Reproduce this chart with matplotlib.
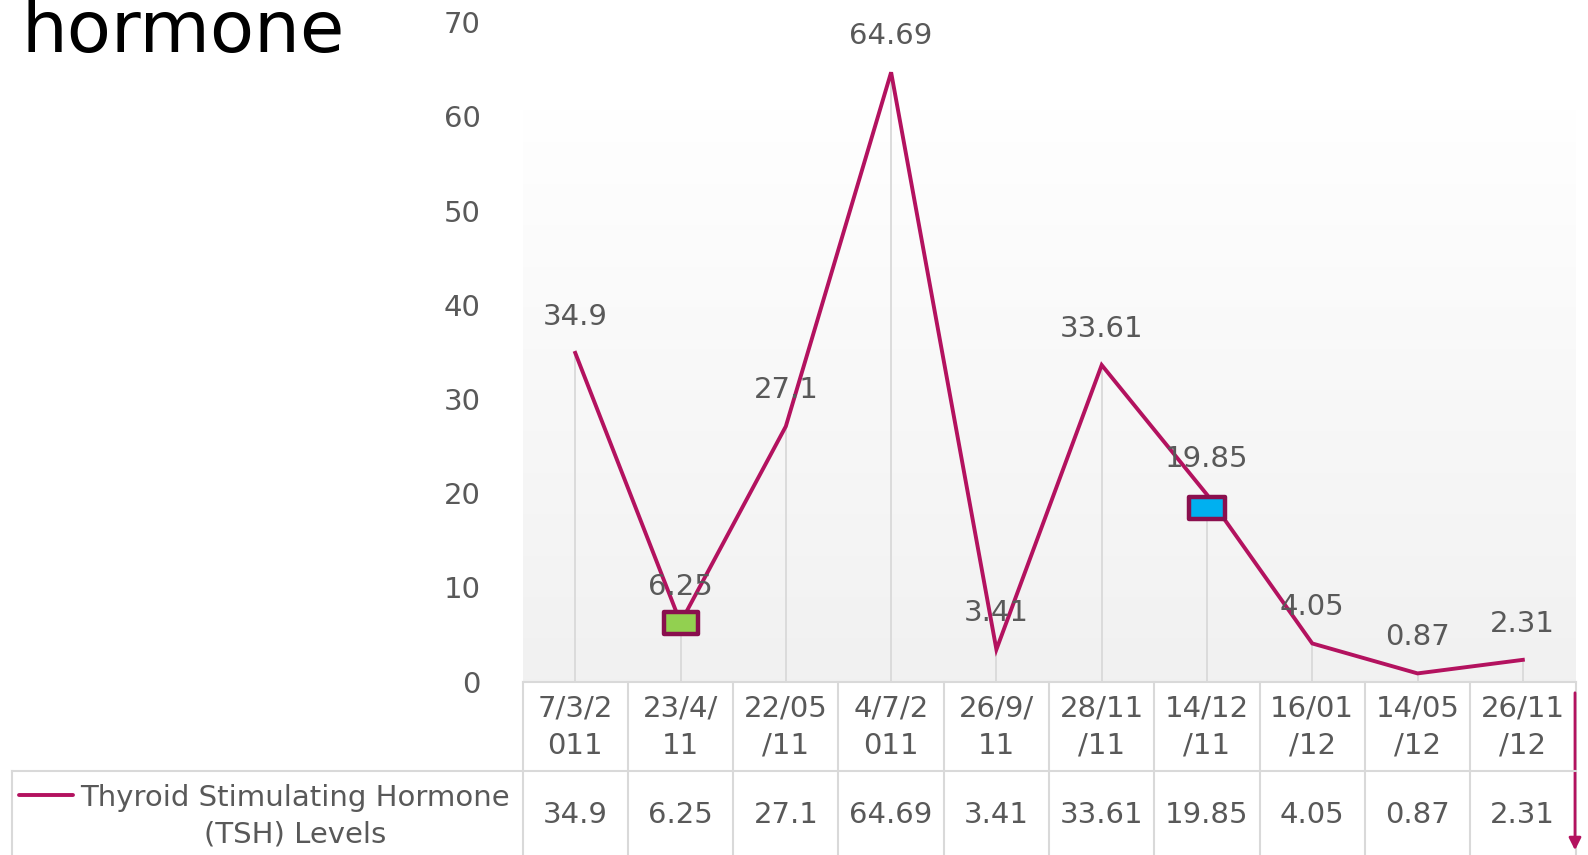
import numpy as np
import matplotlib
matplotlib.use("Agg")
from matplotlib import pyplot as plt
from matplotlib import transforms
from matplotlib.path import Path
from matplotlib.lines import Line2D

plt.rcParams['font.family'] = ['DejaVu Sans']

# data
dates = ['7/3/2\n011', '23/4/\n11', '22/05\n/11', '4/7/2\n011', '26/9/\n11',
         '28/11\n/11', '14/12\n/11', '16/01\n/12', '14/05\n/12', '26/11\n/12']
tsh = [34.9, 6.25, 27.1, 64.69, 3.41, 33.61, 19.85, 4.05, 0.87, 2.31]
series_name = 'Thyroid Stimulating Hormone\n(TSH) Levels'
yticks = [0, 10, 20, 30, 40, 50, 60, 70]

line_c = '#B3125F'
text_c = '#595959'
grid_c = '#D9D9D9'
fs = 21

W, H = 1588, 855
fig = plt.figure(figsize=(W / 100, H / 100), dpi=100)

# axes placed in pixel units
x0, x1 = 522.6, 1575.5
y_zero, y_top = 681.6, 22.3
ax = fig.add_axes([x0 / W, (H - y_zero) / H, (x1 - x0) / W, (y_zero - y_top) / H])
ax.set_xlim(-0.5, len(tsh) - 0.5)
for s in ax.spines.values():
    s.set_visible(False)
ax.set_xticks([])
ax.set_yticks(yticks)
ax.tick_params(axis='y', length=0, pad=30, labelsize=fs, labelcolor=text_c)
ax.patch.set_alpha(0)

# plot area gradient
grad_top = (y_zero - 110) / (y_zero - y_top)
g = np.linspace(0.945, 0.999, 200).reshape(-1, 1)[::-1]
ax.imshow(np.dstack([g, g, g]), extent=(-0.5, len(tsh) - 0.5, 0, 70 * grad_top),
          aspect='auto', origin='upper', zorder=0)
ax.set_ylim(0, 70)

x = np.arange(len(tsh))
# drop lines
ax.vlines(x, 0, tsh, color=grid_c, lw=1.3, zorder=1)
ax.plot(x, tsh, color=line_c, lw=2.8, zorder=3, solid_joinstyle='miter')

# highlighted points
rect = Path([(-1, -0.62), (1, -0.62), (1, 0.62), (-1, 0.62), (-1, -0.62)],
            [Path.MOVETO, Path.LINETO, Path.LINETO, Path.LINETO, Path.CLOSEPOLY])
ax.plot(x[1], tsh[1], marker=rect, ms=25, mfc='#92D050', mec='#8A0F4E', mew=3.2,
        zorder=4, ls='none')
shift = transforms.ScaledTranslation(0, -13 / 100, fig.dpi_scale_trans)
ax.plot(x[6], tsh[6], marker=rect, ms=26, mfc='#00B0F0', mec='#8A0F4E', mew=3.2,
        zorder=4, ls='none', transform=ax.transData + shift)

# data labels
for xi, v in zip(x, tsh):
    ax.annotate(f'{v:g}', (xi, v), xytext=(0, 26), textcoords='offset points',
                ha='center', va='center', fontsize=fs, color=text_c, zorder=5)

# data table
fx = lambda px: px / W
fy = lambda py: (H - py) / H
bt = transforms.blended_transform_factory(ax.transData, fig.transFigure)
row1_top, row2_top, bottom = 682, 770.5, 860
edges = np.arange(len(tsh) + 1) - 0.5
fig.add_artist(Line2D([fx(x0), fx(x1)], [fy(row1_top)] * 2, color=grid_c, lw=1.5))
fig.add_artist(Line2D([fx(12), fx(x1)], [fy(row2_top)] * 2, color=grid_c, lw=1.5))
fig.add_artist(Line2D([fx(12), fx(12)], [fy(row2_top), fy(bottom)], color=grid_c, lw=1.5))
for e in edges:
    ax.add_line(Line2D([e, e], [fy(row1_top), fy(bottom)], transform=bt,
                       color=grid_c, lw=1.5, clip_on=False))
for xi, d, v in zip(x, dates, tsh):
    ax.text(xi, fy(727), d, transform=bt, ha='center', va='center', fontsize=fs,
            color=text_c, linespacing=1.42, clip_on=False)
    ax.text(xi, fy(815), f'{v:g}', transform=bt, ha='center', va='center',
            fontsize=fs, color=text_c, clip_on=False)

# legend key in table
fig.add_artist(Line2D([fx(19), fx(73)], [fy(795)] * 2, color=line_c, lw=2.8,
                      solid_capstyle='round'))
fig.text(fx(295), fy(816), series_name, ha='center', va='center', fontsize=fs,
         color=text_c, linespacing=1.4)

# title (cropped at top)
fig.text(fx(22), fy(52), 'hormone', ha='left', va='baseline', fontsize=52,
         color='black')

# arrow shape on right edge
fig.add_artist(matplotlib.patches.FancyArrowPatch(
    (fx(1575), fy(690)), (fx(1575), fy(853)), transform=fig.transFigure,
    arrowstyle='-|>', mutation_scale=18, color=line_c, lw=2))

fig.savefig('out.png', dpi=100)
